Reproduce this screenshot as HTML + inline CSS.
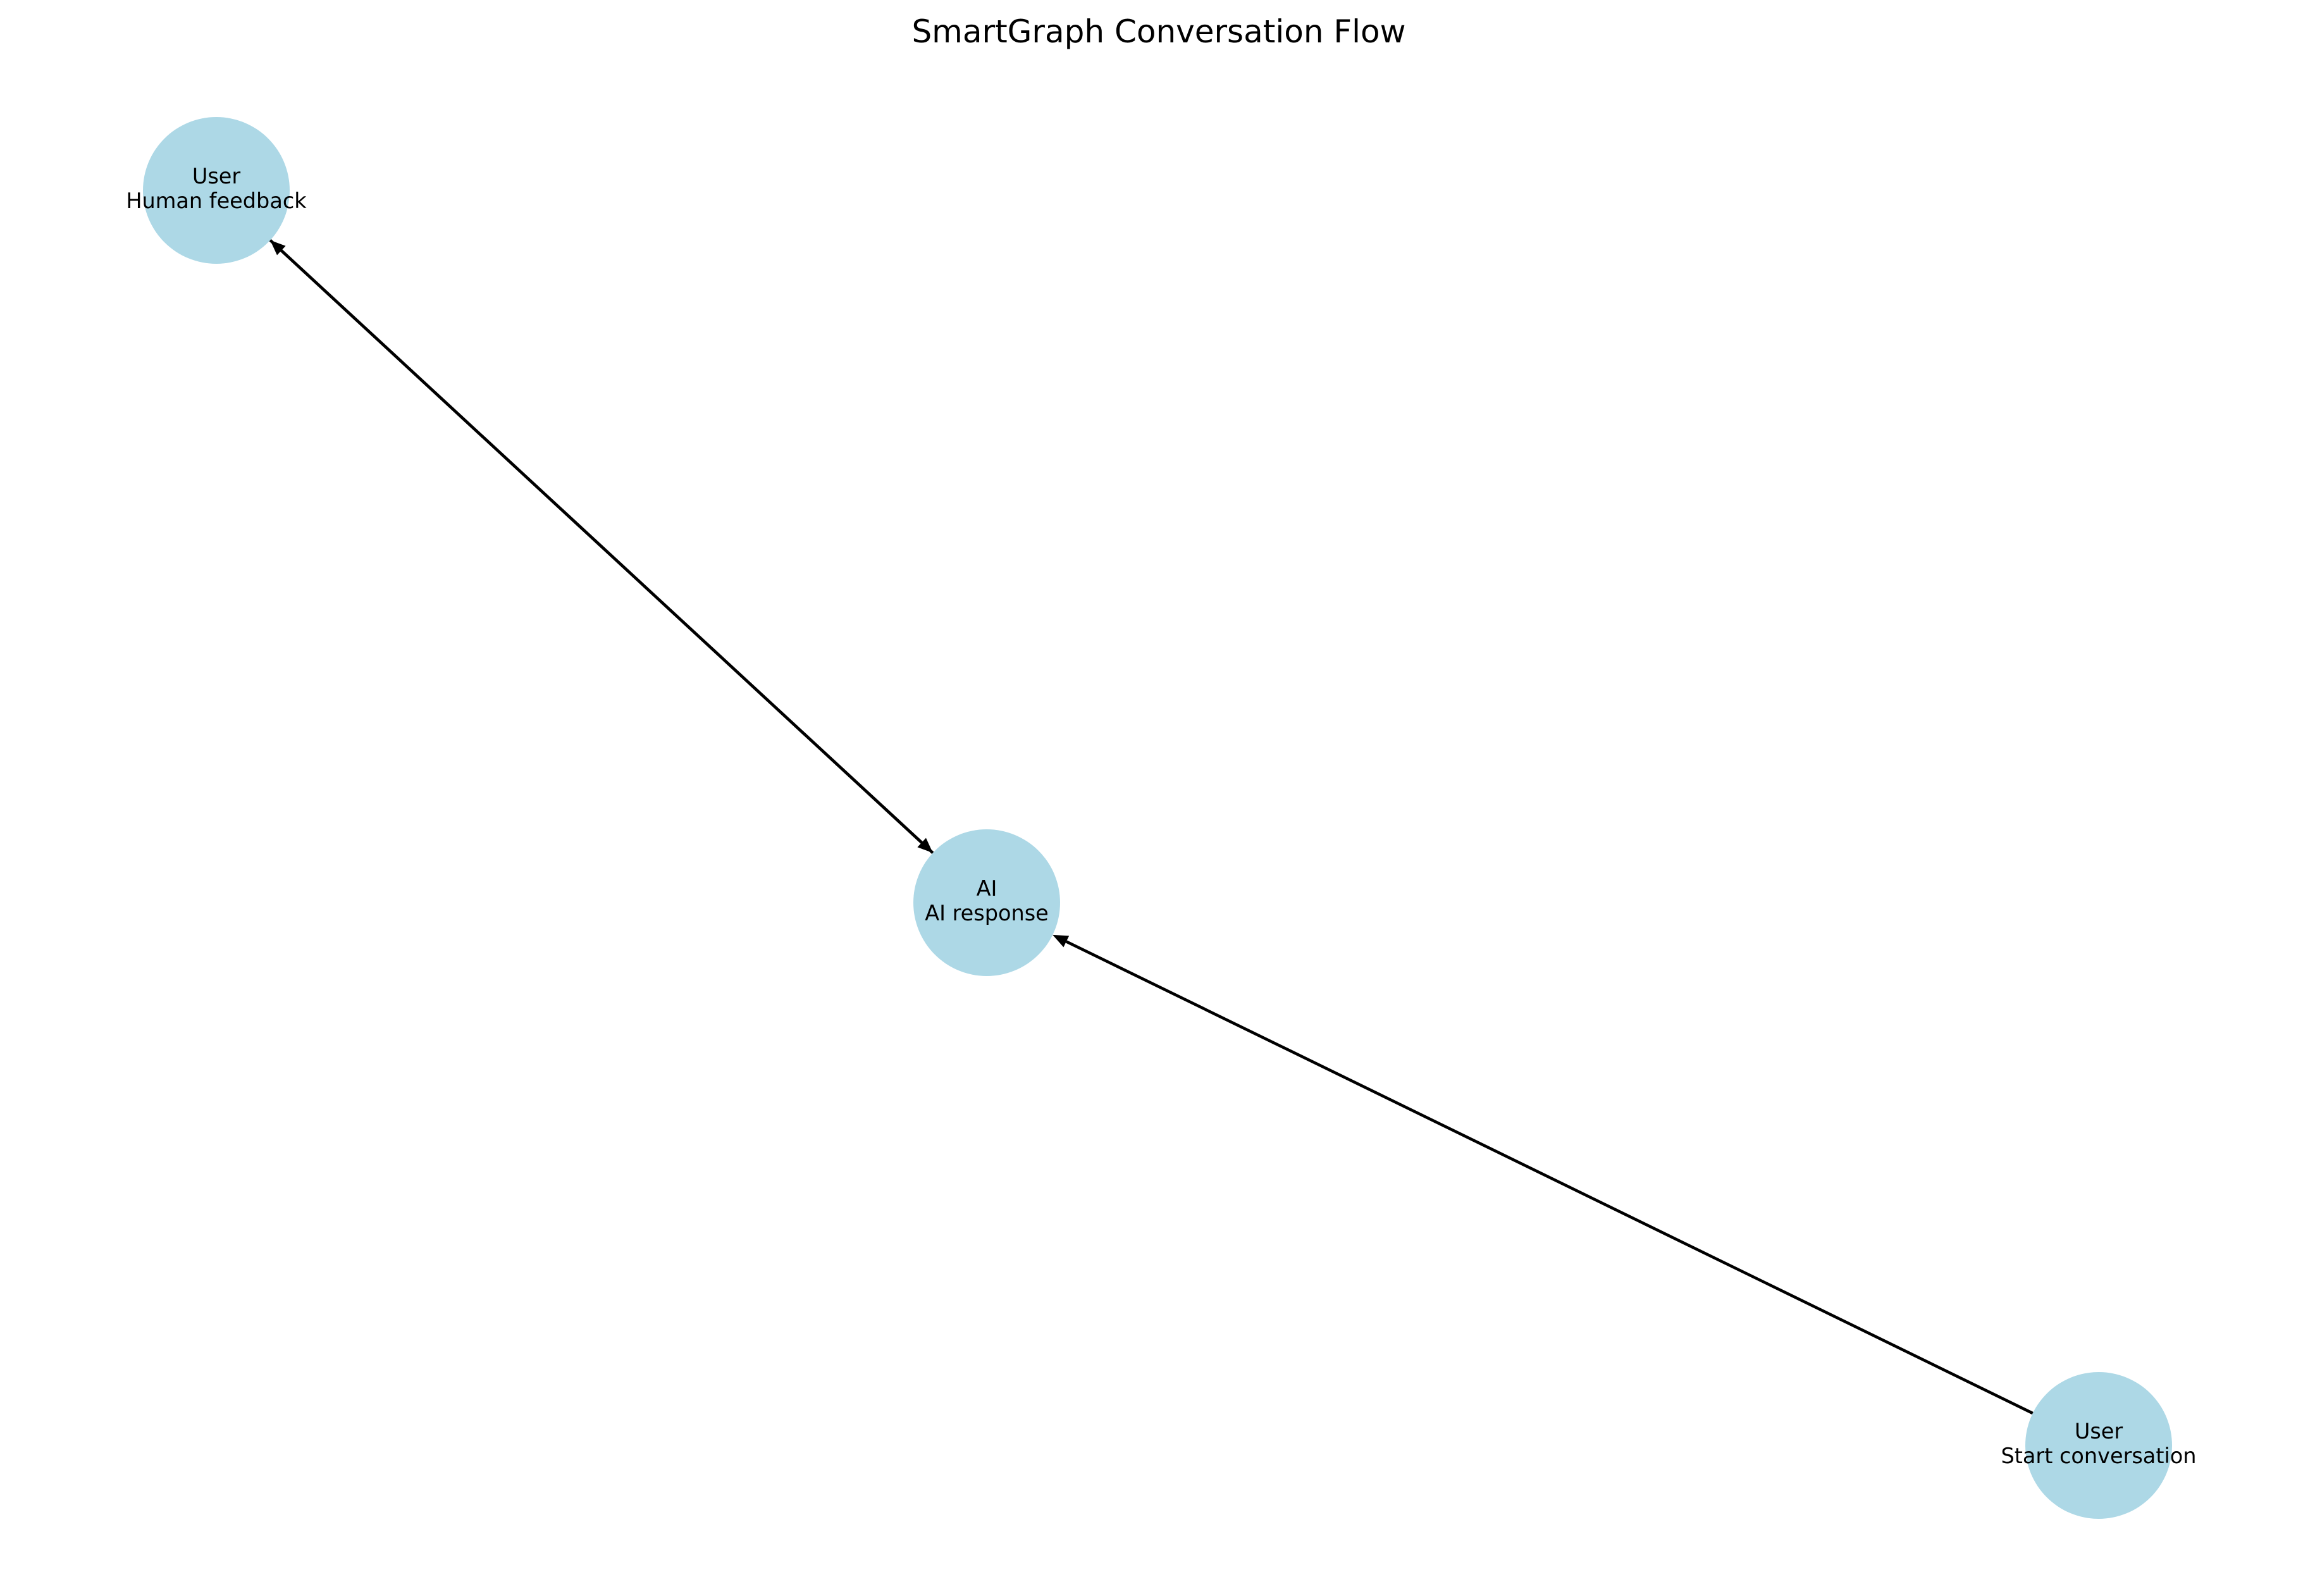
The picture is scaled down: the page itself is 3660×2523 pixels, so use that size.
<!DOCTYPE html>
<html><head><meta charset="utf-8">
<style>html,body{margin:0;padding:0;background:#fff}svg{display:block}</style></head>
<body>
<svg id="chart" width="3660" height="2523" viewBox="0 0 3660 2523" xmlns="http://www.w3.org/2000/svg">
<rect width="3660" height="2523" fill="#fff"/>
<text x="1832" y="67" text-anchor="middle" font-family="DejaVu Sans, Liberation Sans, sans-serif" font-size="50" fill="#000">SmartGraph Conversation Flow</text>
<g id="edges"></g>
<g id="nodes"></g>
</svg>
<script>
const nodeIds = ["feedback", "ai", "start"];
const nodeRoles = ["User", "AI", "User"];
const nodeLabels = ["Human feedback", "AI response", "Start conversation"];
const nodeX = [342, 1560, 3318];
const nodeY = [301, 1427, 2285];
const edgeFrom = ["start", "ai", "feedback"];
const edgeTo = ["ai", "feedback", "ai"];

const NS = "http://www.w3.org/2000/svg";
const R = 116;
const eg = document.getElementById("edges");
const ng = document.getElementById("nodes");
function idx(id){ return nodeIds.indexOf(id); }
for (let k = 0; k < edgeFrom.length; k++) {
  const a = idx(edgeFrom[k]), b = idx(edgeTo[k]);
  const x1 = nodeX[a], y1 = nodeY[a], x2 = nodeX[b], y2 = nodeY[b];
  const d = Math.hypot(x2 - x1, y2 - y1), ux = (x2 - x1) / d, uy = (y2 - y1) / d;
  const tx = x2 - ux * R, ty = y2 - uy * R;
  const sx = x1 + ux * R, sy = y1 + uy * R;
  const L = 24, W = 10;
  const line = document.createElementNS(NS, "line");
  line.setAttribute("x1", sx); line.setAttribute("y1", sy);
  line.setAttribute("x2", tx - ux * L); line.setAttribute("y2", ty - uy * L);
  line.setAttribute("stroke", "#000"); line.setAttribute("stroke-width", "4.6");
  
  
  eg.appendChild(line);
  const bx = tx - ux * L, by = ty - uy * L;
  const head = document.createElementNS(NS, "polygon");
  head.setAttribute("points", `${tx},${ty} ${bx - uy * W},${by + ux * W} ${bx + uy * W},${by - ux * W}`);
  head.setAttribute("fill", "#000");
  
  
  eg.appendChild(head);
}
for (let i = 0; i < nodeIds.length; i++) {
  const c = document.createElementNS(NS, "circle");
  c.setAttribute("cx", nodeX[i]); c.setAttribute("cy", nodeY[i]); c.setAttribute("r", R);
  c.setAttribute("fill", "#add8e6");
  
  
  ng.appendChild(c);
  const lines = [nodeRoles[i], nodeLabels[i]];
  for (let j = 0; j < 2; j++) {
    const t = document.createElementNS(NS, "text");
    t.setAttribute("x", nodeX[i]);
    t.setAttribute("y", nodeY[i] - 11 + j * 39);
    t.setAttribute("text-anchor", "middle");
    t.setAttribute("font-family", "DejaVu Sans, Liberation Sans, sans-serif");
    t.setAttribute("font-size", "33.5");
    t.setAttribute("fill", "#000");
    t.textContent = lines[j];
    
    
    ng.appendChild(t);
  }
}
</script>
</body></html>
